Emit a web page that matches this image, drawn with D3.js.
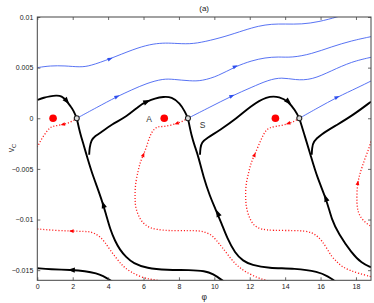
<!DOCTYPE html>
<html>
<head>
<meta charset="utf-8">
<script src="https://cdn.jsdelivr.net/npm/d3@7"></script>
<style>
	body { margin: 0; background: #fff; }
	svg { display: block; }
	text { font-family: "Liberation Sans", Arial, sans-serif; }
</style>
</head>
<body>
<svg id="chart" width="374" height="303"></svg>
<script>
// axes
const phiTicks = [0, 2, 4, 6, 8, 10, 12, 14, 16, 18];
const vTicks = [0.01, 0.005, 0, -0.005, -0.01, -0.015];
const vTickLabels = ["0.01", "0.005", "0", "\u22120.005", "\u22120.01", "\u22120.015"];

// fixed points
const centerPhi = [0.89, 7.17, 13.45];
const saddlePhi = [2.23, 8.51, 14.8];

// blue trajectories [phi, v]
const blue1 = [[0, 0.005], [0.72, 0.00519], [1.56, 0.00519], [2.41, 0.00504], [2.98, 0.00516], [4.1, 0.00586], [5.42, 0.00681], [6.37, 0.00731], [7.12, 0.00744], [7.68, 0.00741], [8.63, 0.00731], [9.47, 0.00756], [10.6, 0.00806], [11.73, 0.00872], [12.49, 0.00911], [13.24, 0.00931], [13.99, 0.00931], [14.94, 0.00928], [15.88, 0.00951], [17.0, 0.01003], [17.6, 0.0104]];
const blue2 = [[2.23, 0], [3.36, 0.00107], [4.49, 0.00213], [5.33, 0.0028], [6.18, 0.00346], [7.12, 0.00391], [7.68, 0.00385], [8.63, 0.00368], [9.29, 0.00368], [10.23, 0.00418], [11.17, 0.0051], [12.11, 0.00569], [12.86, 0.00598], [13.62, 0.00608], [14.37, 0.00598], [15.5, 0.00635], [16.63, 0.00707], [17.76, 0.00766], [18.85, 0.00806]];
const blue3 = [[8.51, 0], [9.75, 0.0011], [10.98, 0.0022], [12.11, 0.00306], [13.05, 0.00378], [13.81, 0.00405], [14.56, 0.00378], [15.5, 0.00378], [16.63, 0.0047], [17.76, 0.00559], [18.85, 0.00602]];
const blue4 = [[14.8, 0], [15.86, 0.00104], [16.92, 0.00207], [18.14, 0.00306], [18.85, 0.00368]];

// black separatrices [phi, v]
const blackTop0 = [[0, 0.00181], [0.38, 0.00205], [0.72, 0.00217], [1.06, 0.00225], [1.38, 0.00222], [1.66, 0.00171], [1.9, 0.00112], [2.03, 0.00082], [2.23, 0]];
const blackTop1 = [[2.93, -0.0036], [2.95, -0.00293], [3.05, -0.00214], [3.26, -0.00175], [3.54, -0.00148], [4.2, -0.0006], [5.05, 0.00016], [5.8, 0.00131], [6.18, 0.00164], [6.65, 0.00196], [7.12, 0.00213], [7.59, 0.00211], [8.06, 0.00148], [8.34, 0.00065], [8.51, 0]];
const blackTop2 = [[9.19, -0.0036], [9.21, -0.00293], [9.29, -0.00237], [9.57, -0.00197], [10.32, -0.00116], [11.27, 0], [12.02, 0.00115], [12.96, 0.0022], [13.71, 0.00213], [14.18, 0.00164], [14.56, 0.00082], [14.8, 0]];
const blackTop3 = [[15.5, -0.0036], [15.52, -0.00293], [15.59, -0.00231], [15.97, -0.00165], [16.92, -0.00066], [17.85, 0.00033], [18.85, 0.00164]];
const blackLow0 = [[0, -0.01481], [0.72, -0.01491], [1.94, -0.01498], [2.69, -0.01508], [3.36, -0.01531], [3.71, -0.01557], [4.11, -0.01597], [4.3, -0.0162]];
const blackLow1 = [[2.23, 0], [2.41, -0.00145], [2.64, -0.00274], [2.86, -0.00412], [3.09, -0.0054], [3.36, -0.00669], [3.6, -0.00787], [3.88, -0.00945], [4.11, -0.01093], [4.39, -0.01212], [4.67, -0.013], [5.01, -0.0137], [5.42, -0.01432], [6.18, -0.01481], [7.31, -0.01498], [8.63, -0.01498], [9.47, -0.01508], [9.93, -0.01537], [10.42, -0.01597], [10.6, -0.0162]];
const blackLow2 = [[8.51, 0], [8.72, -0.00182], [8.91, -0.00283], [9.1, -0.00379], [9.38, -0.00577], [9.76, -0.00774], [10.04, -0.00886], [10.42, -0.01044], [10.72, -0.01182], [11.17, -0.01333], [11.62, -0.01409], [12.11, -0.01449], [13.05, -0.01481], [14.56, -0.01481], [15.88, -0.01515], [16.44, -0.01564], [16.72, -0.01597], [16.9, -0.0162]];
const blackLow3 = [[14.8, 0], [15.12, -0.00182], [15.41, -0.00346], [15.79, -0.00577], [16.35, -0.00807], [16.63, -0.01004], [17.01, -0.01136], [17.76, -0.01333], [18.33, -0.01432], [18.85, -0.01471]];

// red dotted trajectories [phi, v]
const red0 = [[0, -0.01093], [1.0, -0.01108], [1.94, -0.01113], [2.69, -0.01118], [2.98, -0.0112], [3.26, -0.01138], [3.54, -0.0117], [3.82, -0.01222], [4.11, -0.01301], [4.5, -0.0139], [4.86, -0.01466], [5.24, -0.01513], [5.8, -0.01565], [6.37, -0.01591], [6.75, -0.01597], [7.0, -0.0161]];
const red1 = [[2.23, 0], [1.96, -0.00032], [1.68, -0.00051], [1.45, -0.00061], [1.17, -0.00071], [0.94, -0.00076], [0.72, -0.00091], [0.55, -0.00126], [0.32, -0.00182], [0.15, -0.00234], [0, -0.00284]];
const red2 = [[8.51, 0], [8.18, -0.00032], [7.88, -0.00051], [7.5, -0.00071], [7.12, -0.00083], [6.82, -0.00081], [6.59, -0.00106], [6.37, -0.00165], [6.18, -0.00279], [5.99, -0.00361], [5.8, -0.0044], [5.71, -0.00511], [5.58, -0.00609], [5.52, -0.00708], [5.52, -0.00807], [5.55, -0.00889], [5.8, -0.01], [6.08, -0.01051], [6.37, -0.01083], [6.82, -0.011], [7.31, -0.0111], [8.63, -0.0111], [9.1, -0.0111], [9.47, -0.01123], [9.85, -0.01152], [10.1, -0.01202], [10.42, -0.01268], [10.98, -0.01399], [11.34, -0.01463], [11.73, -0.01515], [12.49, -0.0158], [12.92, -0.01597], [13.1, -0.0161]];
const red3 = [[14.8, 0], [14.5, -0.00032], [14.18, -0.00051], [13.82, -0.00071], [13.43, -0.00081], [13.15, -0.00091], [12.92, -0.00116], [12.7, -0.00185], [12.47, -0.00281], [12.27, -0.00362], [12.07, -0.00441], [11.96, -0.00521], [11.82, -0.00619], [11.76, -0.00718], [11.77, -0.00817], [11.82, -0.00897], [12.02, -0.01005], [12.3, -0.01071], [12.7, -0.01098], [13.24, -0.01108], [14.56, -0.01108], [15.12, -0.01113], [15.5, -0.01128], [15.8, -0.01162], [16.07, -0.01207], [16.34, -0.01281], [16.63, -0.01367], [16.93, -0.01419], [17.2, -0.01465], [17.67, -0.01503], [18.14, -0.01531], [18.85, -0.01564]];
const red4 = [[18.85, -0.0023], [18.74, -0.00294], [18.54, -0.00383], [18.35, -0.00479], [18.2, -0.00561], [18.1, -0.0064], [18.05, -0.00738], [18.05, -0.00837], [18.09, -0.00906], [18.23, -0.00971], [18.51, -0.01028], [18.85, -0.01068]];

// arrows: curve, phi, v, direction along the array order
const blueArrows = [[blue1, 4.1, 0.00586, 1], [blue2, 4.49, 0.00213, 1], [blue2, 11.17, 0.0051, 1], [blue3, 10.98, 0.0022, 1], [blue4, 16.92, 0.00207, 1]];
const blackArrows = [[blackTop0, 1.66, 0.00171, 1], [blackTop1, 6.18, 0.00164, 1], [blackTop2, 14.18, 0.00164, 1], [blackLow1, 3.73, -0.00855, -1], [blackLow2, 10.2, -0.0094, -1], [blackLow3, 16.3, -0.0079, -1], [blackLow0, 1.94, -0.01498, -1]];
const redArrows = [[red1, 1.45, -0.00061, 1], [red2, 7.88, -0.00051, 1], [red2, 5.99, -0.00361, -1], [red3, 14.18, -0.00051, 1], [red3, 12.27, -0.00362, -1], [red0, 1.94, -0.01113, -1], [red4, 18.1, -0.0064, -1]];

const svg = d3.select("#chart");
const m = { l: 37.3, r: 371, t: 17, b: 280.3 };

const x = d3.scaleLinear().domain([0, 6 * Math.PI]).range([m.l, m.r]);
const y = d3.scaleLinear().domain([-0.016, 0.01]).range([m.b, m.t]);

svg.append("defs").append("clipPath").attr("id", "plot")
	.append("rect")
	.attr("x", m.l).attr("y", m.t)
	.attr("width", m.r - m.l).attr("height", m.b - m.t);

const line = d3.line()
	.x((d) => x(d[0]))
	.y((d) => y(d[1]))
	.curve(d3.curveBasis);

const g = svg.append("g").attr("clip-path", "url(#plot)");

// red dotted
g.selectAll("path.red")
	.data([red0, red1, red2, red3, red4])
	.join("path")
	.attr("class", "red")
	.attr("d", line)
	.attr("fill", "none")
	.attr("stroke", "#ff1a1a")
	.attr("stroke-width", 1.3)
	.attr("stroke-dasharray", "1.1,1.9");

// blue
g.selectAll("path.blue")
	.data([blue1, blue2, blue3, blue4])
	.join("path")
	.attr("class", "blue")
	.attr("d", line)
	.attr("fill", "none")
	.attr("stroke", "#4563f2")
	.attr("stroke-width", 0.9);

// black
g.selectAll("path.black")
	.data([blackTop0, blackTop1, blackTop2, blackTop3, blackLow0, blackLow1, blackLow2, blackLow3])
	.join("path")
	.attr("class", "black")
	.attr("d", line)
	.attr("fill", "none")
	.attr("stroke", "#000")
	.attr("stroke-width", 1.9)
	.attr("stroke-linejoin", "round");

// arrow heads, oriented along the curve
function arrowTransform(a) {
	let pts = a[0];
	let best = 0, bd = Infinity;
	pts.forEach((p, i) => {
		let dd = (x(p[0]) - x(a[1])) ** 2 + (y(p[1]) - y(a[2])) ** 2;
		if (dd < bd) { bd = dd; best = i; }
	});
	let p0 = pts[Math.max(0, best - 1)];
	let p1 = pts[Math.min(pts.length - 1, best + 1)];
	let ang = Math.atan2(y(p1[1]) - y(p0[1]), x(p1[0]) - x(p0[0])) * 180 / Math.PI;
	if (a[3] < 0) ang += 180;
	return `translate(${x(a[1])},${y(a[2])}) rotate(${ang})`;
}

g.selectAll("path.ab")
	.data(blueArrows)
	.join("path")
	.attr("class", "ab")
	.attr("d", "M3,0L-2.2,-1.9L-2.2,1.9Z")
	.attr("fill", "#2f4fee")
	.attr("transform", arrowTransform);

g.selectAll("path.ak")
	.data(blackArrows)
	.join("path")
	.attr("class", "ak")
	.attr("d", "M4,0L-3.2,-2.7L-3.2,2.7Z")
	.attr("fill", "#000")
	.attr("transform", arrowTransform);

g.selectAll("path.ar")
	.data(redArrows)
	.join("path")
	.attr("class", "ar")
	.attr("d", "M2.6,0L-2,-1.9L-2,1.9Z")
	.attr("fill", "#ff0000")
	.attr("transform", arrowTransform);

// fixed points
g.selectAll("circle.center")
	.data(centerPhi)
	.join("circle")
	.attr("class", "center")
	.attr("cx", (d) => x(d))
	.attr("cy", y(0))
	.attr("r", 3.8)
	.attr("fill", "#ff0000");

g.selectAll("circle.saddle")
	.data(saddlePhi)
	.join("circle")
	.attr("class", "saddle")
	.attr("cx", (d) => x(d))
	.attr("cy", y(0))
	.attr("r", 2.5)
	.attr("fill", "#ddd")
	.attr("stroke", "#222")
	.attr("stroke-width", 1.1);

// point labels
svg.append("text").attr("x", x(6.32)).attr("y", y(0) + 3.5)
	.attr("text-anchor", "middle").attr("font-size", 8.5).attr("fill", "#333").text("A");
svg.append("text").attr("x", x(9.34)).attr("y", y(0) + 10)
	.attr("text-anchor", "middle").attr("font-size", 8.5).attr("fill", "#333").text("S");

// axes
const axColor = "#444";
let xAxis = svg.append("g")
	.attr("transform", `translate(0,${m.b})`)
	.call(d3.axisBottom(x).tickValues(phiTicks).tickSize(-3).tickSizeOuter(0).tickPadding(4));
let xTop = svg.append("g")
	.attr("transform", `translate(0,${m.t})`)
	.call(d3.axisTop(x).tickValues(phiTicks).tickSize(-3).tickSizeOuter(0).tickFormat(""));
let yAxis = svg.append("g")
	.attr("transform", `translate(${m.l},0)`)
	.call(d3.axisLeft(y).tickValues(vTicks).tickSize(-3).tickSizeOuter(0).tickPadding(4)
		.tickFormat((d, i) => vTickLabels[i]));
let yRight = svg.append("g")
	.attr("transform", `translate(${m.r},0)`)
	.call(d3.axisRight(y).tickValues(vTicks).tickSize(-3).tickSizeOuter(0).tickFormat(""));

[xAxis, xTop, yAxis, yRight].forEach((a) => {
	a.select(".domain").remove();
	a.selectAll("line").attr("stroke", axColor).attr("stroke-width", 0.8);
	a.selectAll("text").attr("font-size", 7).attr("fill", "#222")
		.attr("font-family", "'Liberation Sans', Arial, sans-serif");
});

svg.append("rect")
	.attr("x", m.l).attr("y", m.t)
	.attr("width", m.r - m.l).attr("height", m.b - m.t)
	.attr("fill", "none")
	.attr("stroke", axColor)
	.attr("stroke-width", 1);

// titles
svg.append("text").attr("x", (m.l + m.r) / 2).attr("y", 11)
	.attr("text-anchor", "middle").attr("font-size", 8).attr("fill", "#222").text("(a)");
svg.append("text").attr("x", (m.l + m.r) / 2).attr("y", 300)
	.attr("text-anchor", "middle").attr("font-size", 8.5).attr("fill", "#222").text("\u03c6");

let yl = svg.append("text")
	.attr("transform", "translate(14,148) rotate(-90)")
	.attr("text-anchor", "middle").attr("font-size", 8.5).attr("fill", "#222");
yl.append("tspan").text("v");
yl.append("tspan").attr("font-size", 6).attr("dy", 2).text("C");
</script>
</body>
</html>
